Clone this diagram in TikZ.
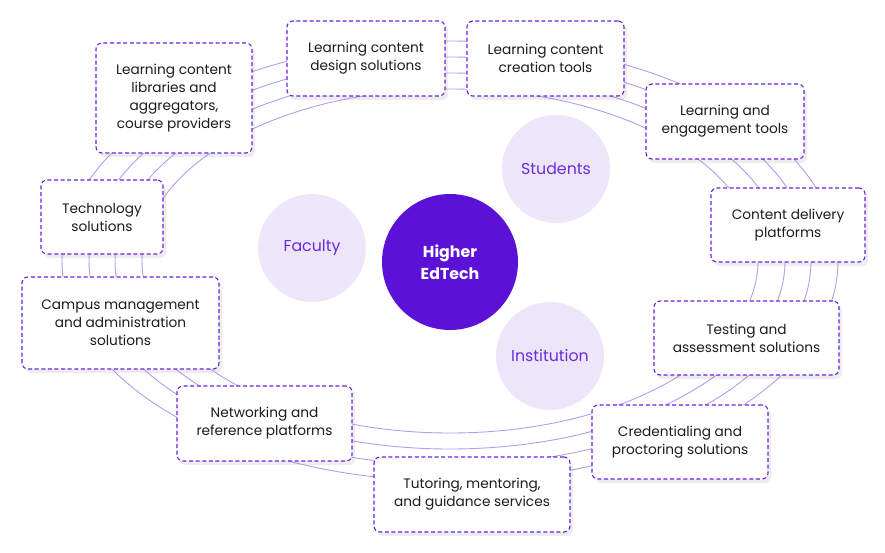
\documentclass[tikz,border=0pt]{standalone}
\usepackage{fontspec}
\setmainfont{Poppins}
\usetikzlibrary{shadows}
\definecolor{edviolet}{HTML}{5B12D6}
\definecolor{edpale}{HTML}{EDE6FA}
\definecolor{edpurple}{HTML}{6A2BDF}
\definecolor{edline}{HTML}{6A1FE0}
\definecolor{edring}{HTML}{B49CF0}
\definecolor{edtext}{HTML}{1C1C1C}

\begin{document}
\begin{tikzpicture}[
    x=1pt, y=-1pt,
    card/.style={rectangle, draw=edline, line width=1.1pt, dash pattern=on 4pt off 2.6pt,
        rounded corners=6pt, fill=white, align=center, text=edtext,
        font=\fontsize{13.7}{18}\selectfont, inner sep=0pt,
        drop shadow={opacity=0.14, shadow xshift=3pt, shadow yshift=-4pt}},
    hubnode/.style={circle, fill=edviolet, minimum size=136pt, inner sep=0pt, text=white,
        align=center, font=\fontsize{15.8}{22}\selectfont\bfseries},
    group/.style={circle, fill=edpale, minimum size=108pt, inner sep=0pt, text=edpurple,
        font=\fontsize{15.8}{18}\selectfont},
    ring/.style={draw=edring, line width=0.9pt}
]
\useasboundingbox (0,0) rectangle (885,552);

% centre and the three groups
\node[hubnode] (hub) at (450,262) {Higher\\EdTech};
\node[group] (faculty) at (312,248) {Faculty};
\node[group] (students) at (556,169) {Students};
\node[group] (institution) at (550,356) {Institution};

% the four rings behind the cards
\foreach \rx/\ry in {388/220, 361/204, 335/188, 308/172}
    \draw[ring] (hub.center) ++(0,-1) ellipse [x radius=\rx, y radius=\ry];

% cards round the ring
\node[card, minimum width=156pt, minimum height=110pt] (libraries) at (174,98)
    {Learning content\\libraries and\\aggregators,\\course providers};
\node[card, minimum width=158pt, minimum height=75pt] (design) at (366,58.5)
    {Learning content\\design solutions};
\node[card, minimum width=157pt, minimum height=75pt] (creation) at (545.5,58.5)
    {Learning content\\creation tools};
\node[card, minimum width=158pt, minimum height=75pt] (engagement) at (725,121.5)
    {Learning and\\engagement tools};
\node[card, minimum width=154pt, minimum height=74pt] (delivery) at (788,225)
    {Content delivery\\platforms};
\node[card, minimum width=185pt, minimum height=74pt] (testing) at (746.5,338)
    {Testing and\\assessment solutions};
\node[card, minimum width=176pt, minimum height=74pt] (credential) at (680,442)
    {Credentialing and\\proctoring solutions};
\node[card, minimum width=196pt, minimum height=75pt] (tutoring) at (472,494.5)
    {Tutoring, mentoring,\\and guidance services};
\node[card, minimum width=175pt, minimum height=75pt] (networking) at (264.5,423.5)
    {Networking and\\reference platforms};
\node[card, minimum width=197pt, minimum height=92pt] (campus) at (120.5,323)
    {Campus management\\and administration\\solutions};
\node[card, minimum width=122pt, minimum height=74pt] (technology) at (102,217)
    {Technology\\solutions};
\end{tikzpicture}
\end{document}
